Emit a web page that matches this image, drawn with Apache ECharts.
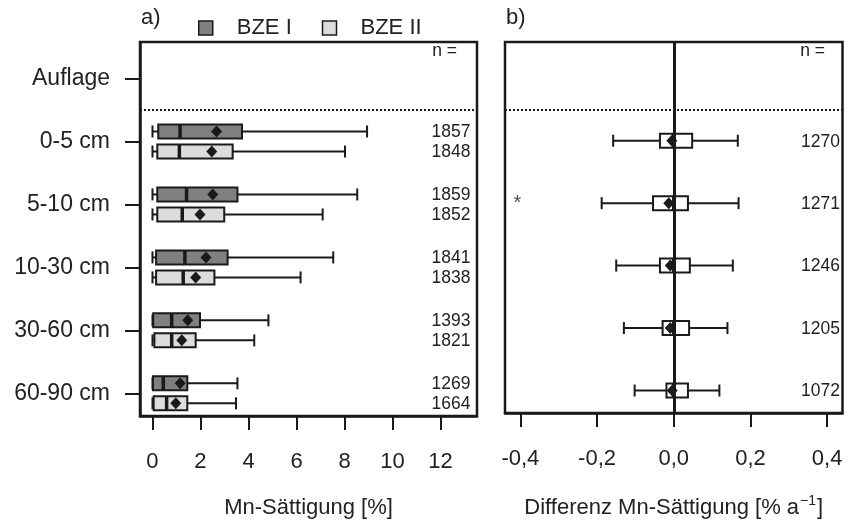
<!DOCTYPE html>
<html>
<head>
<meta charset="utf-8">
<script src="https://cdn.jsdelivr.net/npm/echarts@6/dist/echarts.min.js"></script>
<style>
  html, body { margin: 0; padding: 0; background: #fff; }
  #chart { width: 850px; height: 524px; }
</style>
</head>
<body>
<div id="chart"></div>
<script>
// Depth levels, top to bottom (row position 6 = Auflage ... 1 = 60-90 cm)
const categories = ['Auflage', '0-5 cm', '5-10 cm', '10-30 cm', '30-60 cm', '60-90 cm'];
const rowPos = [5, 4, 3, 2, 1]; // mineral soil depths (no data for Auflage)

// Panel a: Mn saturation [%], BZE I
const bze1Low = [0, 0, 0, 0, 0];
const bze1Q1 = [0.24, 0.20, 0.15, 0.03, 0.02];
const bze1Med = [1.15, 1.42, 1.35, 0.80, 0.45];
const bze1Q3 = [3.73, 3.54, 3.13, 1.98, 1.45];
const bze1High = [8.94, 8.53, 7.53, 4.83, 3.54];
const bze1Mean = [2.67, 2.51, 2.23, 1.47, 1.15];
const bze1N = [1857, 1859, 1841, 1393, 1269];

// Panel a: Mn saturation [%], BZE II
const bze2Low = [0, 0, 0, 0, 0];
const bze2Q1 = [0.20, 0.20, 0.15, 0.08, 0.05];
const bze2Med = [1.12, 1.24, 1.28, 0.80, 0.59];
const bze2Q3 = [3.34, 2.99, 2.58, 1.80, 1.45];
const bze2High = [8.02, 7.09, 6.17, 4.24, 3.48];
const bze2Mean = [2.47, 1.98, 1.80, 1.22, 0.97];
const bze2N = [1848, 1852, 1838, 1821, 1664];

// Panel b: annual difference [% a^-1]
const diffLow = [-0.158, -0.188, -0.150, -0.130, -0.102];
const diffQ1 = [-0.036, -0.054, -0.036, -0.029, -0.019];
const diffMed = [0, 0, 0, 0, 0];
const diffQ3 = [0.048, 0.037, 0.042, 0.040, 0.037];
const diffHigh = [0.167, 0.169, 0.154, 0.140, 0.119];
const diffMean = [-0.005, -0.013, -0.009, -0.009, -0.004];
const diffN = [1270, 1271, 1246, 1205, 1072];
const diffSignif = ['', '*', '', '', ''];

// Axis ticks
const ticksA = [0, 2, 4, 6, 8, 10, 12];
const ticksB = [-0.4, -0.2, 0, 0.2, 0.4];
const rowTicks = [1, 2, 3, 4, 5, 6];

const INK = '#1a1a1a';

function rows(low, q1, med, q3, high, mean, n) {
  return rowPos.map((p, i) => [low[i], q1[i], med[i], q3[i], high[i], mean[i], p, n[i]]);
}

// Horizontal box-and-whisker glyph with mean diamond and n label at the right edge
function boxRenderer(fill, dy, nPad) {
  return function (params, api) {
    const yv = api.value(6);
    const xAt = k => api.coord([api.value(k), yv])[0];
    const y = api.coord([0, yv])[1] + dy;
    const lo = xAt(0), q1 = xAt(1), md = xAt(2), q3 = xAt(3), hi = xAt(4), mn = xAt(5);
    const bh = 14, ch = 12, dw = 5.5, dh = 6;
    const cs = params.coordSys;
    const lineStyle = { stroke: INK, lineWidth: 2 };
    const kids = [
      { type: 'line', shape: { x1: lo, y1: y, x2: q1, y2: y }, style: lineStyle },
      { type: 'line', shape: { x1: q3, y1: y, x2: hi, y2: y }, style: lineStyle },
      { type: 'line', shape: { x1: lo, y1: y - ch / 2, x2: lo, y2: y + ch / 2 }, style: lineStyle },
      { type: 'line', shape: { x1: hi, y1: y - ch / 2, x2: hi, y2: y + ch / 2 }, style: lineStyle },
      { type: 'rect', shape: { x: q1, y: y - bh / 2, width: q3 - q1, height: bh },
        style: { fill: fill, stroke: INK, lineWidth: 2 } },
      { type: 'line', shape: { x1: md, y1: y - bh / 2, x2: md, y2: y + bh / 2 },
        style: { stroke: INK, lineWidth: 3.5 } },
      { type: 'polygon', shape: { points: [[mn, y - dh], [mn + dw, y], [mn, y + dh], [mn - dw, y]] },
        style: { fill: INK } },
      { type: 'text', style: {
          text: String(api.value(7)), x: cs.x + cs.width - nPad, y: y + 1,
          align: 'right', verticalAlign: 'middle', fill: '#222',
          font: '17.5px "Liberation Sans", Arial, sans-serif' } }
    ];
    return { type: 'group', children: kids };
  };
}

const diffData = rows(diffLow, diffQ1, diffMed, diffQ3, diffHigh, diffMean, diffN);

const chart = echarts.init(document.getElementById('chart'), null, { renderer: 'canvas' });

const fontFam = '"Liberation Sans", Arial, sans-serif';

const commonY = {
  type: 'value', min: 0.64, max: 6.58,
  splitLine: { show: false }
};

const option = {
  animation: false,
  backgroundColor: '#fff',
  textStyle: { fontFamily: fontFam, color: '#222' },
  title: [
    { text: 'a)', left: 141, top: 7, padding: 0, textStyle: { fontSize: 22, fontWeight: 'normal', color: '#222', fontFamily: fontFam } },
    { text: 'b)', left: 506, top: 7, padding: 0, textStyle: { fontSize: 22, fontWeight: 'normal', color: '#222', fontFamily: fontFam } }
  ],
  legend: {
    left: 198, top: 17, padding: 0, itemWidth: 14, itemHeight: 14, itemGap: 30,
    icon: 'rect',
    textStyle: { fontSize: 22, color: '#222', fontFamily: fontFam, padding: [0, 0, 0, 19] },
    data: [
      { name: 'BZE I', itemStyle: { color: '#808080', borderColor: INK, borderWidth: 1.5 } },
      { name: 'BZE II', itemStyle: { color: '#dcdcdc', borderColor: INK, borderWidth: 1.5 } }
    ]
  },
  grid: [
    { left: 140, top: 42, width: 337, height: 375, show: true, borderColor: INK, borderWidth: 2.5, containLabel: false },
    { left: 505, top: 42, width: 337.5, height: 375, show: true, borderColor: INK, borderWidth: 2.5, containLabel: false }
  ],
  xAxis: [
    {
      gridIndex: 0, type: 'value', min: -0.52, max: 13.52,
      splitLine: { show: false },
      axisLine: { show: true, onZero: false, lineStyle: { color: INK, width: 2.5 } },
      axisTick: { show: true, length: 14, customValues: ticksA, lineStyle: { color: INK, width: 2 } },
      axisLabel: { customValues: ticksA, margin: 35, fontSize: 22, color: '#222', fontFamily: fontFam },
      name: 'Mn-Sättigung [%]', nameLocation: 'middle', nameGap: 81,
      nameTextStyle: { fontSize: 22, color: '#222', fontFamily: fontFam }
    },
    {
      gridIndex: 1, type: 'value', min: -0.44, max: 0.44,
      splitLine: { show: false },
      axisLine: { show: true, onZero: false, lineStyle: { color: INK, width: 2.5 } },
      axisTick: { show: true, length: 14, customValues: ticksB, lineStyle: { color: INK, width: 2 } },
      axisLabel: {
        customValues: ticksB, margin: 35, fontSize: 22, color: '#222', fontFamily: fontFam,
        formatter: v => v.toFixed(1).replace('.', ',')
      },
      name: 'Differenz Mn-Sättigung [% a{sup|−1}]', nameLocation: 'middle', nameGap: 81,
      nameTextStyle: {
        fontSize: 22, color: '#222', fontFamily: fontFam,
        rich: { sup: { fontSize: 14, color: '#222', fontFamily: fontFam, padding: [0, 1, 14, 1] } }
      }
    }
  ],
  yAxis: [
    Object.assign({}, commonY, {
      gridIndex: 0,
      axisLine: { show: true, onZero: false, lineStyle: { color: INK, width: 2.5 } },
      axisTick: { show: true, length: 15, customValues: rowTicks, lineStyle: { color: INK, width: 2 } },
      axisLabel: {
        customValues: rowTicks, margin: 30, fontSize: 23, color: '#222', fontFamily: fontFam,
        formatter: v => categories[6 - Math.round(v)]
      }
    }),
    Object.assign({}, commonY, {
      gridIndex: 1,
      axisLine: { show: false, onZero: false }, axisTick: { show: false }, axisLabel: { show: false }
    })
  ],
  graphic: [
    { type: 'text', right: 850 - 457, top: 42, style: { text: 'n =', font: '17.5px ' + fontFam, fill: '#222' } },
    { type: 'text', right: 850 - 825, top: 42, style: { text: 'n =', font: '17.5px ' + fontFam, fill: '#222' } }
  ],
  series: [
    {
      name: 'BZE I', type: 'custom', xAxisIndex: 0, yAxisIndex: 0,
      itemStyle: { color: '#808080' },
      encode: { x: [0, 1, 2, 3, 4, 5], y: 6 },
      renderItem: boxRenderer('#808080', -10, 6.5),
      data: rows(bze1Low, bze1Q1, bze1Med, bze1Q3, bze1High, bze1Mean, bze1N),
      markLine: {
        silent: true, symbol: 'none', label: { show: false },
        lineStyle: { color: INK, width: 2, type: [2, 2] },
        data: [{ yAxis: 5.5 }]
      }
    },
    {
      name: 'BZE II', type: 'custom', xAxisIndex: 0, yAxisIndex: 0,
      itemStyle: { color: '#dcdcdc' },
      encode: { x: [0, 1, 2, 3, 4, 5], y: 6 },
      renderItem: boxRenderer('#dcdcdc', 10, 6.5),
      data: rows(bze2Low, bze2Q1, bze2Med, bze2Q3, bze2High, bze2Mean, bze2N)
    },
    {
      name: 'Differenz', type: 'custom', xAxisIndex: 1, yAxisIndex: 1,
      encode: { x: [0, 1, 2, 3, 4, 5], y: 6 },
      renderItem: boxRenderer('#ffffff', 0, 2.5),
      data: diffData,
      z: 2,
      markLine: {
        silent: true, symbol: 'none', label: { show: false }, z: 5,
        data: [
          { xAxis: 0, lineStyle: { color: INK, width: 3, type: 'solid' } },
          { yAxis: 5.5, lineStyle: { color: INK, width: 2, type: [2, 2] } }
        ]
      }
    },
    {
      // significance markers at the left edge of panel b
      name: 'Signifikanz', type: 'scatter', xAxisIndex: 1, yAxisIndex: 1,
      symbolSize: 0, silent: true,
      data: rowPos.map((p, i) => ({ value: [-0.408, p], label: { show: diffSignif[i] !== '', formatter: diffSignif[i] } })),
      label: { position: 'inside', fontSize: 20, color: '#222', fontFamily: fontFam, offset: [0, 0] }
    }
  ]
};

chart.setOption(option);
</script>
</body>
</html>
